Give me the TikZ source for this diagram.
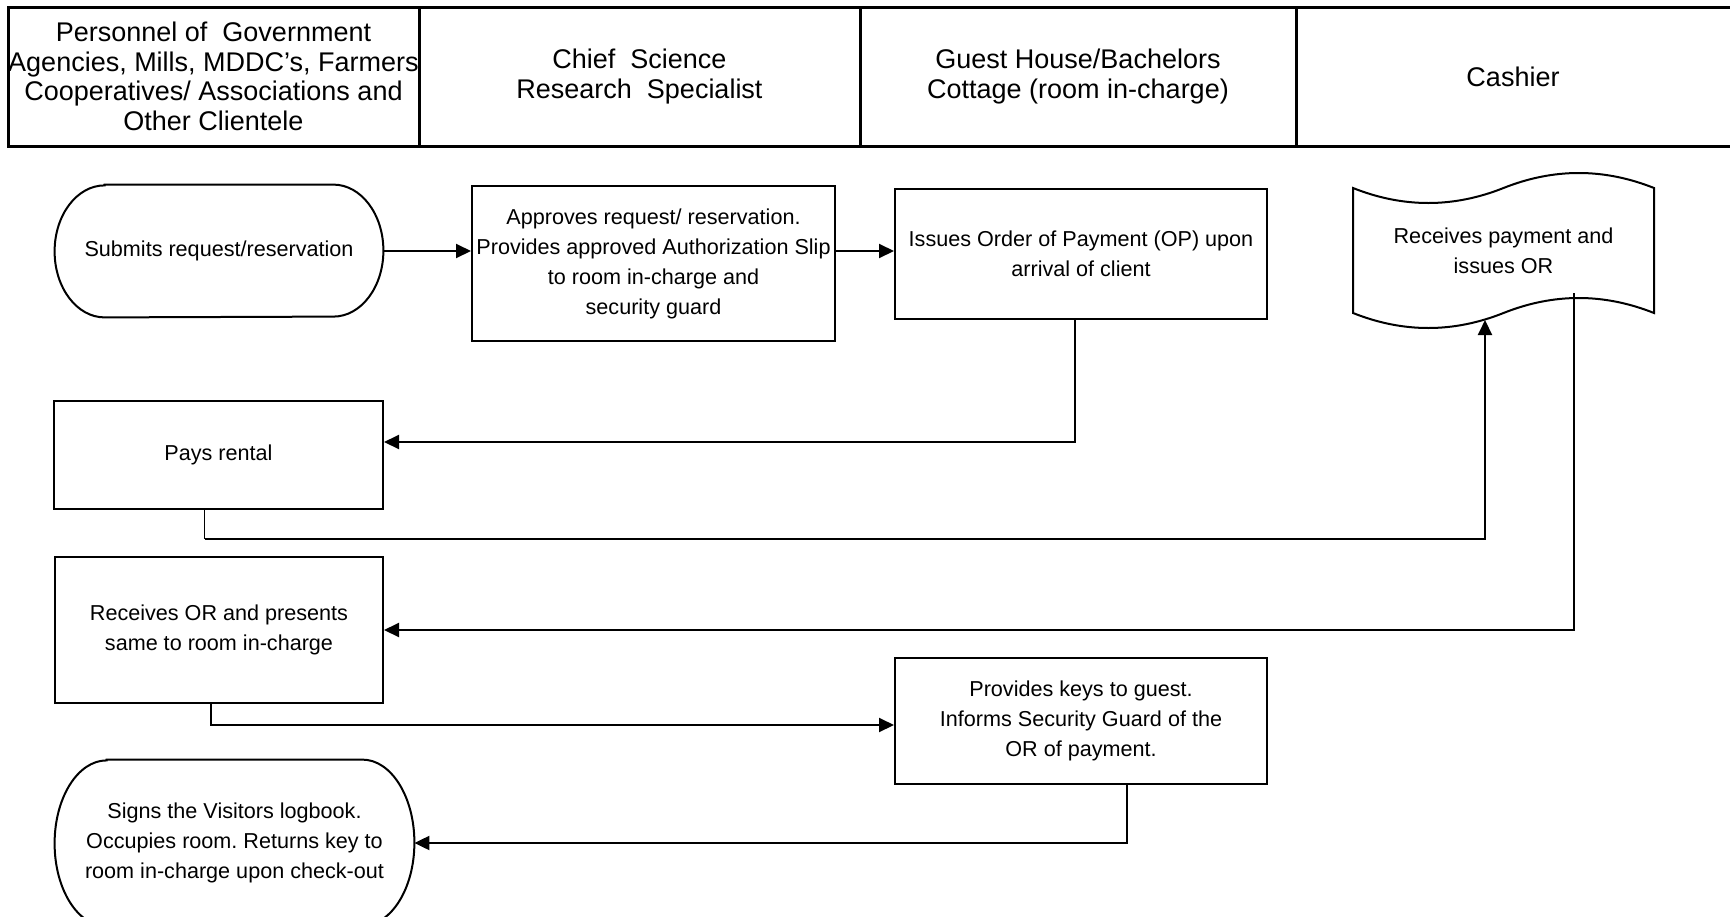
\documentclass[tikz,border=0pt]{standalone}
\usepackage{fontspec}
\setmainfont{Liberation Sans}
\usetikzlibrary{arrows.meta,calc}
\frenchspacing

\begin{document}
\begin{tikzpicture}[x=0.5pt, y=0.5pt,
        lane/.style={font=\fontsize{13.5}{14.75}\selectfont, align=center, inner sep=0pt},
        box/.style={draw, line width=1pt, align=center, inner sep=0pt, font=\fontsize{10.8}{15}\selectfont},
        txt/.style={align=center, inner sep=0pt, font=\fontsize{10.8}{15}\selectfont},
        flow/.style={line width=1pt, -{Triangle[length=7.5pt, width=7pt]}},
        stub/.style={line width=0.6pt}]
    \useasboundingbox (0,0) rectangle (1730,-916);
    \clip (0,0) rectangle (1730,-916);

    % lanes
    \draw[line width=1.5pt] (8,-7) rectangle (1760,-146);
    \foreach \x in {419, 860, 1296} {
        \draw[line width=1.5pt] (\x,-7) -- (\x,-146);
    }
    \node[lane] (client) at (213.5,-76.5) {Personnel of\ \ Government\\Agencies, Mills, MDDC’s, Farmers\\Cooperatives/ Associations and\\Other Clientele};
    \node[lane] (chief) at (639.5,-76.5) {Chief\ \ Science\\Research\ \ Specialist};
    \node[lane] (room) at (1078,-76.5) {Guest House/Bachelors\\Cottage (room in-charge)};
    \node[lane] (cashier) at (1513,-76.5) {Cashier};

    % steps
    \node[txt, minimum width=164pt, minimum height=66pt] (sub) at (219,-251) {Submits request/reservation};
    \draw[line width=1pt] ($(sub.north west)+(50,0)$) -- ($(sub.north east)+(-50,0)$)
        arc[start angle=90, end angle=-90, x radius=50, y radius=66]
        -- ($(sub.south west)+(50,0)$)
        arc[start angle=270, end angle=90, x radius=50, y radius=66] -- cycle;
    \node[box, minimum width=181.5pt, minimum height=77.5pt] (app) at (653.5,-263.5)
        {Approves request/ reservation.\\Provides approved Authorization Slip\\to room in-charge and\\security guard};
    \node[box, minimum width=186pt, minimum height=65pt] (iss) at (1081,-254)
        {Issues Order of Payment (OP) upon\\arrival of client};
    \node[txt, minimum width=150.5pt, minimum height=62.5pt] (tape) at (1503.5,-250.5)
        {Receives payment and\\issues OR};
    \begin{scope}[shift={(tape.center)}]
        \draw[line width=1pt] (-150.5,62.5) .. controls (-100.3,42.5) and (-50.2,42.5) .. (0,62.5)
            .. controls (50.2,82.5) and (100.3,82.5) .. (150.5,62.5) -- (150.5,-62.5)
            .. controls (100.3,-42.5) and (50.2,-42.5) .. (0,-62.5)
            .. controls (-50.2,-82.5) and (-100.3,-82.5) .. (-150.5,-62.5) -- cycle;
    \end{scope}
    \coordinate (tapein) at (1485,-320);
    \coordinate (tapeout) at (1574,-293);

    \node[box, minimum width=164.5pt, minimum height=54pt] (pay) at (218.5,-455) {Pays rental};
    \node[box, minimum width=164pt, minimum height=73pt] (rcv) at (219,-630)
        {Receives OR and presents\\same to room in-charge};
    \node[box, minimum width=186pt, minimum height=63pt] (key) at (1081,-721)
        {Provides keys to guest.\\Informs Security Guard of the\\OR of payment.};
    \node[txt, minimum width=179.5pt, minimum height=83pt] (sign) at (234.5,-843)
        {Signs the Visitors logbook.\\Occupies room. Returns key to\\room in-charge upon check-out};
    \draw[line width=1pt] ($(sign.north west)+(52,0)$) -- ($(sign.north east)+(-52,0)$)
        arc[start angle=90, end angle=-90, x radius=52, y radius=83]
        -- ($(sign.south west)+(52,0)$)
        arc[start angle=270, end angle=90, x radius=52, y radius=83] -- cycle;

    % connectors
    \draw[flow] (sub.east) -- (sub.east -| app.west);
    \draw[flow] (app.east |- sub.east) -- (iss.west |- sub.east);
    \draw[flow] ([xshift=-3pt]iss.south) |- ([yshift=6.5pt]pay.east);
    \draw[stub] ([xshift=-7pt]pay.south) -- ++(0,-29) coordinate (payturn);
    \draw[flow] (payturn) -| (tapein);
    \draw[flow] (tapeout) |- (rcv.east);
    \draw[flow] ([xshift=-4pt]rcv.south) |- ([yshift=-2pt]key.west);
    \draw[flow] ([xshift=23pt]key.south) |- (sign.east);
\end{tikzpicture}
\end{document}
